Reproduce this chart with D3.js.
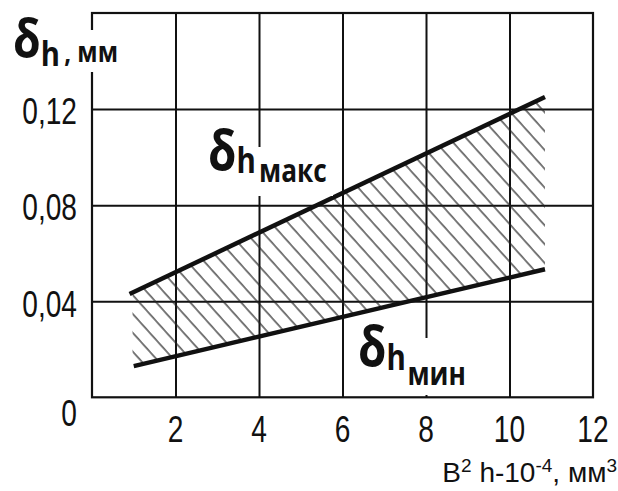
<!DOCTYPE html>
<html>
<head>
<meta charset="utf-8">
<script src="https://cdn.jsdelivr.net/npm/d3@7"></script>
<style>
  html, body { margin: 0; padding: 0; background: #fff; }
  svg { display: block; }
  .num { font-family: "Liberation Sans", Arial, sans-serif; fill: #111; }
  .ttl { font-family: "Liberation Sans", Arial, sans-serif; fill: #111; }
  .bold { font-family: "Open Sans", "Liberation Sans", sans-serif; font-weight: bold; fill: #111; }
</style>
</head>
<body>
<svg id="chart" width="618" height="491"></svg>
<script>
// Tick values and their labels
const xTicks = [2, 4, 6, 8, 10, 12];
const yTicks = [0, 0.04, 0.08, 0.12];
const yTickLabels = ["0", "0,04", "0,08", "0,12"];

// Upper boundary δh макс
const maxX = [0.9, 10.85];
const maxY = [0.043, 0.125];
// Lower boundary δh мин
const minX = [1.0, 10.85];
const minY = [0.013, 0.0533];

// Hatched band limits along x
const bandX = [0.97, 10.85];

const svg = d3.select("#chart");
const mLeft = 92, mRight = 593, mTop = 13, mBottom = 397.3;
const narrow = 0.76;   // horizontal squeeze for the condensed digits

const x = d3.scaleLinear().domain([0, 12]).range([mLeft, mRight]);
const y = d3.scaleLinear().domain([0, 0.16]).range([mBottom, mTop]);

// Grid (vertical and horizontal)
const gx = svg.append("g").attr("transform", `translate(0,${mBottom})`)
  .call(d3.axisBottom(x).tickValues(xTicks.slice(0, -1)).tickSize(-(mBottom - mTop)).tickFormat(""));
const gy = svg.append("g").attr("transform", `translate(${mLeft},0)`)
  .call(d3.axisLeft(y).tickValues(yTicks.slice(1)).tickSize(-(mRight - mLeft)).tickFormat(""));
[gx, gy].forEach(g => {
  g.select(".domain").remove();
  g.selectAll(".tick line").attr("stroke", "#111").attr("stroke-width", 2);
});

// Frame
svg.append("rect")
  .attr("x", x(0)).attr("y", y(0.16))
  .attr("width", x(12) - x(0)).attr("height", y(0) - y(0.16))
  .attr("fill", "none").attr("stroke", "#111").attr("stroke-width", 2.2);

// Hatch pattern
const defs = svg.append("defs");
const pat = defs.append("pattern")
  .attr("id", "hatch").attr("patternUnits", "userSpaceOnUse")
  .attr("width", 12.6).attr("height", 12.6)
  .attr("patternTransform", "rotate(-42)");
pat.append("line").attr("x1", 2).attr("y1", 0).attr("x2", 2).attr("y2", 12.6)
  .attr("stroke", "#222").attr("stroke-width", 1.2);

const fMax = d3.scaleLinear().domain(maxX).range(maxY);
const fMin = d3.scaleLinear().domain(minX).range(minY);
const band = [
  [bandX[0], fMax(bandX[0])], [bandX[1], fMax(bandX[1])],
  [bandX[1], fMin(bandX[1])], [bandX[0], fMin(bandX[0])]
];
svg.append("path")
  .attr("d", d3.line().x(d => x(d[0])).y(d => y(d[1]))(band) + "Z")
  .attr("fill", "url(#hatch)");

// Boundary lines
const line = d3.line().x(d => x(d[0])).y(d => y(d[1]));
[[maxX, maxY], [minX, minY]].forEach(([xs, ys]) => {
  svg.append("path")
    .attr("d", line(xs.map((v, i) => [v, ys[i]])))
    .attr("fill", "none").attr("stroke", "#111").attr("stroke-width", 4.5)
    .attr("stroke-linecap", "butt");
});

// Tick labels
svg.append("g").selectAll("text").data(yTicks).join("text")
  .attr("class", "num")
  .attr("transform", d => `translate(${mLeft - 15},${y(d) + (d === 0 ? 15 : 2)}) scale(${narrow},1)`)
  .attr("dy", "0.36em")
  .attr("text-anchor", "end")
  .attr("font-size", 37)
  .text((d, i) => yTickLabels[i]);

svg.append("g").selectAll("text").data(xTicks).join("text")
  .attr("class", "num")
  .attr("transform", d => `translate(${x(d)},442) scale(${narrow},1)`)
  .attr("text-anchor", "middle")
  .attr("font-size", 37)
  .text(d => d);

// Curve and axis labels: δ with subscript h and a further suffix
function deltaLabel(px, py, sub, o) {
  const g = svg.append("g").attr("transform", `translate(${px},${py})`);
  g.append("rect").attr("x", o.mask[0]).attr("y", o.mask[1])
    .attr("width", o.mask[2]).attr("height", o.mask[3]).attr("fill", "#fff");
  const t = g.append("text").attr("class", "bold")
    .attr("transform", `scale(${o.sq},1)`);
  t.append("tspan").attr("font-size", o.d).text("δ");
  t.append("tspan").attr("font-size", o.h).attr("dy", o.hy).text("h");
  t.append("tspan").attr("font-size", o.s).attr("dx", o.sx).attr("dy", o.sy).text(sub);
}

deltaLabel(13, 57, ", мм", { d: 52, h: 34, hy: 9, s: 28, sx: 5, sy: -4, sq: 0.86, mask: [50, -27, 68, 42] });
deltaLabel(208, 170, "макс", { d: 56, h: 36, hy: 3, s: 32, sx: 4, sy: 9, sq: 0.82, mask: [-3, -23, 128, 49] });
deltaLabel(358, 366, "мин", { d: 56, h: 36, hy: 4, s: 32, sx: 2, sy: 15, sq: 0.82, mask: [-3, -28, 112, 57] });

const xt = svg.append("text").attr("class", "ttl").attr("font-size", 28)
  .attr("x", 617).attr("y", 482).attr("text-anchor", "end");
xt.append("tspan").text("B");
xt.append("tspan").attr("font-size", 19).attr("dy", -10).text("2");
xt.append("tspan").attr("dy", 10).text(" h-10");
xt.append("tspan").attr("font-size", 19).attr("dy", -10).text("-4");
xt.append("tspan").attr("dy", 10).text(", мм");
xt.append("tspan").attr("font-size", 19).attr("dy", -10).text("3");
</script>
</body>
</html>
